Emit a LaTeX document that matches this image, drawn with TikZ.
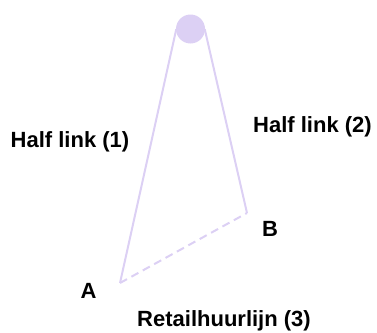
\documentclass[tikz,border=0pt]{standalone}
\usepackage{fontspec}
\setmainfont{Liberation Sans}
\usepackage{tikz}
\usetikzlibrary{positioning,calc}

\definecolor{linkpurple}{HTML}{DCD0F4}

\begin{document}
\begin{tikzpicture}[x=1pt,y=-1pt,font=\bfseries\fontsize{22}{26}\selectfont,
  link/.style={draw=linkpurple,line width=2pt},
  lbl/.style={inner sep=0pt,text=black,anchor=base}]
\useasboundingbox (0,0) rectangle (377,332);
\node[circle,fill=linkpurple,minimum size=29pt,inner sep=0pt] (wheel) at (190.5,29) {};
\coordinate (a) at (120,283);
\coordinate (b) at (247,213);
\draw[link] (wheel.west) ++(0.5,0) -- (a);
\draw[link] (wheel.east) ++(-0.5,0) -- (b);
\draw[link,dash pattern=on 8pt off 5pt] (a) -- (b);
\node[lbl] (la) at (88.5,298) {A};
\node[lbl] (lb) at (270,236) {B};
\node[lbl] (h1) at (70,147) {Half link (1)};
\node[lbl] (h2) at (312.5,132) {Half link (2)};
\node[lbl] (rl) at (224,326.5) {Retailhuurlijn (3)};
\end{tikzpicture}
\end{document}
